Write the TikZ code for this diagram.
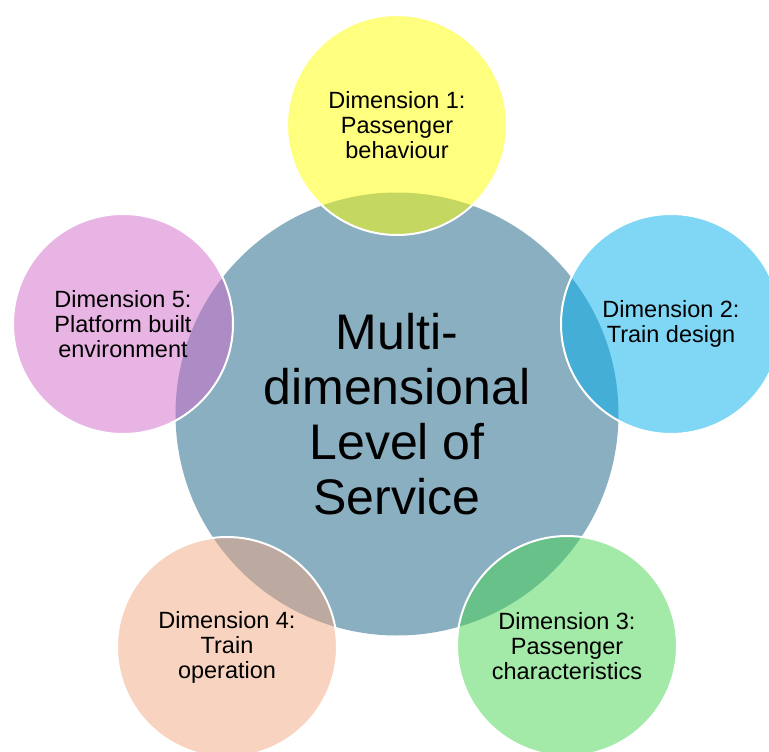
\documentclass[tikz,border=0pt]{standalone}
\usepackage{fontspec}
\setmainfont{Liberation Sans}
\definecolor{centerc}{HTML}{8AAFC1}
\definecolor{c1}{HTML}{FFFF00}
\definecolor{c2}{HTML}{00AEEB}
\definecolor{c3}{HTML}{47D351}
\definecolor{c4}{HTML}{EFA781}
\definecolor{c5}{HTML}{D169C9}
\tikzset{
  hub/.style={circle, fill=centerc, draw=none, minimum size=443pt, inner sep=0pt,
    align=center, font=\fontsize{50}{55}\selectfont},
  dim/.style={circle, fill=#1, fill opacity=0.5, text opacity=1, draw=white, draw opacity=1,
    line width=2pt, minimum size=220pt, inner sep=0pt, align=center,
    font=\fontsize{23.5}{25}\selectfont}
}
\begin{document}
\begin{tikzpicture}[x=1pt,y=-1pt]
\useasboundingbox (0,0) rectangle (769,752);
\clip (0,0) rectangle (769,752);
\node[hub] (hub) at (397,414) {Multi-\\dimensional\\Level of\\Service};
\node[dim=c1] (d1) at (397,125) {Dimension 1:\\Passenger\\behaviour};
\node[dim=c2] (d2) at (671,324) {Dimension 2:\\Train design};
\node[dim=c3] (d3) at (567,646) {Dimension 3:\\Passenger\\characteristics};
\node[dim=c4] (d4) at (227,647) {Dimension 4:\\Train\\operation};
\node[dim=c5] (d5) at (123,324) {Dimension 5:\\Platform built\\environment};
\end{tikzpicture}
\end{document}
